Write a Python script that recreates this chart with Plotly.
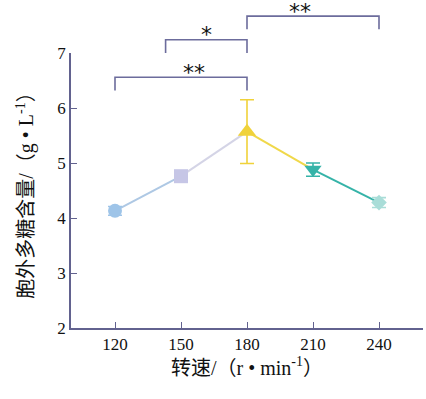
import plotly.graph_objects as go

# ---- data ----
speeds = [120, 150, 180, 210, 240]
eps = [4.13, 4.76, 5.57, 4.88, 4.28]
err = [0.08, 0.05, 0.58, 0.12, 0.09]
colors = ["#9ec4e8", "#c6c6e6", "#f0d23a", "#35b3a8", "#a9ddd8"]
seg_colors = ["#aec8e4", "#d4d4e6", "#f0d84a", "#35b3a8"]
symbols = ["circle", "square", "triangle-up", "triangle-down", "diamond"]
sizes = [14, 14, 16, 15, 12]
tick_vals = [120, 150, 180, 210, 240]
y_ticks = [2, 3, 4, 5, 6, 7]

# significance brackets: (x_left, x_right, level, label)
brackets = [(120, 180, 6.56, "**"), (143, 180, 7.24, "*"), (180, 240, 7.67, "**")]

XR = [100, 260]
YR = [2, 7]
axis_col = "#62628f"
br_col = "#6c6c9c"

def px(v):
    return (v - XR[0]) / (XR[1] - XR[0])

def py(v):
    return (v - YR[0]) / (YR[1] - YR[0])

fig = go.Figure()

for i in range(len(speeds) - 1):
    fig.add_trace(go.Scatter(x=speeds[i:i + 2], y=eps[i:i + 2], mode="lines",
                             line=dict(color=seg_colors[i], width=2),
                             showlegend=False, hoverinfo="skip"))

for i in range(len(speeds)):
    fig.add_trace(go.Scatter(
        x=[speeds[i]], y=[eps[i]], mode="markers",
        marker=dict(symbol=symbols[i], size=sizes[i], color=colors[i]),
        error_y=dict(type="data", array=[err[i]], color=colors[i], thickness=1.6, width=7),
        showlegend=False, cliponaxis=False))

for (xl, xr, lv, lab) in brackets:
    drop = 0.24
    fig.add_shape(type="path", xref="paper", yref="paper",
                  path=f"M {px(xl)} {py(lv - drop)} L {px(xl)} {py(lv)} L {px(xr)} {py(lv)} L {px(xr)} {py(lv - drop)}",
                  line=dict(color=br_col, width=1.6))
    fig.add_annotation(x=px((xl + xr) / 2), y=py(lv), xref="paper", yref="paper",
                       text=lab, showarrow=False, yanchor="middle", yshift=5,
                       font=dict(size=22, color="#111", family="DejaVu Sans"))

fig.update_layout(
    width=426, height=399,
    margin=dict(l=71, r=3, t=53, b=71, autoexpand=False),
    plot_bgcolor="white", paper_bgcolor="white",
    font=dict(family="Liberation Serif, Noto Sans CJK SC", color="#111"),
    xaxis=dict(range=XR, tickvals=tick_vals, ticks="inside", ticklen=6, tickcolor=axis_col,
               showline=True, linecolor=axis_col, linewidth=1.6, showgrid=False, zeroline=False,
               tickfont=dict(size=17), automargin=False,
               title=dict(text="转速/（r • min<sup>-1</sup>）", font=dict(size=20), standoff=6)),
    yaxis=dict(range=YR, tickvals=y_ticks, ticks="inside", ticklen=6, tickcolor=axis_col,
               showline=True, linecolor=axis_col, linewidth=1.6, showgrid=False, zeroline=False,
               tickfont=dict(size=17), automargin=False,
               title=dict(text="胞外多糖含量/（g • L<sup>-1</sup>）", font=dict(size=20), standoff=18)),
)

fig.write_html("out.html", config={"displayModeBar": False},
               post_script="document.body.style.margin='0px';")
